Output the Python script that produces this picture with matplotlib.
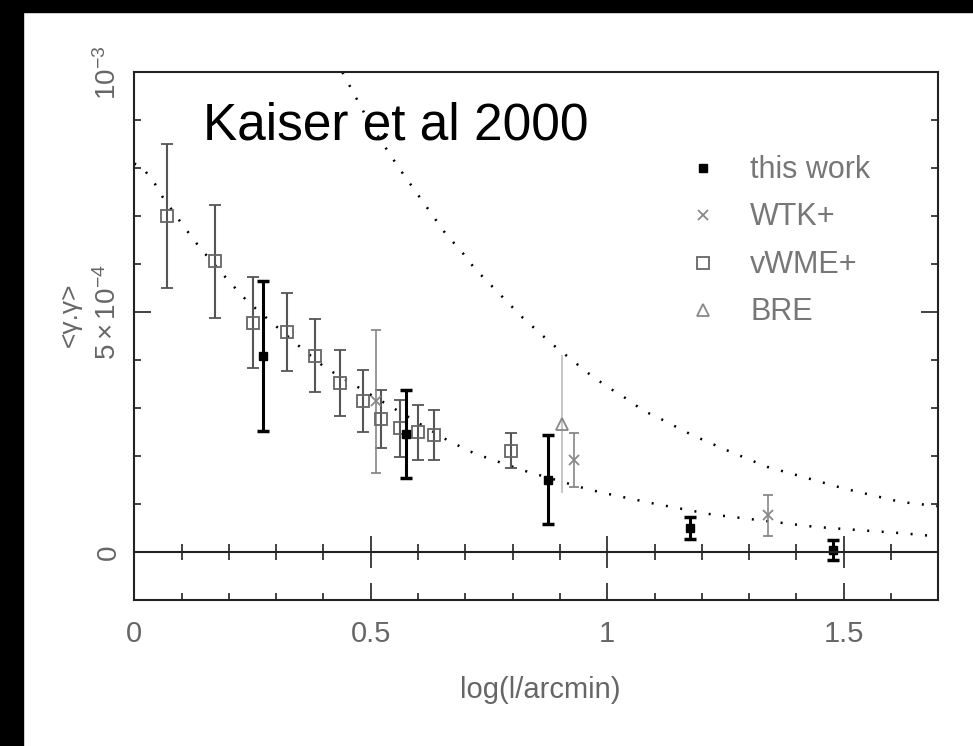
import numpy as np
import matplotlib
matplotlib.use("Agg")
import matplotlib.pyplot as plt
from matplotlib.patches import Rectangle

plt.rcParams['font.family'] = ['Liberation Sans', 'DejaVu Sans']
plt.rcParams['mathtext.fontset'] = 'custom'
plt.rcParams['mathtext.rm'] = 'Liberation Sans'
plt.rcParams['mathtext.it'] = 'Liberation Sans'

# values in units of 1e-3, x = log10(theta / arcmin)
this_x = [0.273, 0.574, 0.875, 1.176, 1.477]
this_y = [0.409, 0.246, 0.151, 0.051, 0.005]
this_err = [0.157, 0.092, 0.093, 0.023, 0.020]

wtk_x = [0.51, 0.93, 1.34]
wtk_y = [0.315, 0.193, 0.077]
wtk_err = [0.149, 0.056, 0.043]

vwme_x = [0.070, 0.170, 0.250, 0.322, 0.383, 0.434, 0.483, 0.522, 0.562, 0.600, 0.633, 0.797]
vwme_y = [0.700, 0.606, 0.478, 0.459, 0.410, 0.353, 0.315, 0.278, 0.258, 0.250, 0.245, 0.212]
vwme_err = [0.150, 0.117, 0.095, 0.081, 0.077, 0.069, 0.065, 0.061, 0.059, 0.057, 0.052, 0.037]

bre_x = [0.905]
bre_y = [0.267]
bre_err = [0.143]

# dotted model curves
lower_x = [0.0, 0.021, 0.044, 0.060, 0.100, 0.139, 0.199, 0.239, 0.343, 0.403,
           0.663, 0.719, 0.821, 0.960, 1.0, 1.101, 1.22, 1.439, 1.62, 1.70]
lower_y = [0.81, 0.797, 0.767, 0.740, 0.685, 0.634, 0.566, 0.523, 0.434, 0.385,
           0.233, 0.206, 0.171, 0.131, 0.122, 0.101, 0.079, 0.053, 0.040, 0.033]
upper_x = [0.44, 0.50, 0.56, 0.661, 0.680, 0.700, 0.719, 0.82, 0.882, 0.96, 1.0,
           1.039, 1.078, 1.101, 1.18, 1.259, 1.338, 1.40, 1.50, 1.62, 1.70]
upper_y = [1.0, 0.89, 0.80, 0.66, 0.64, 0.617, 0.592, 0.49, 0.435, 0.373, 0.345,
           0.321, 0.294, 0.284, 0.244, 0.21, 0.178, 0.161, 0.133, 0.105, 0.096]

xtick_vals = [0, 0.5, 1, 1.5]
xtick_labels = ['0', '0.5', '1', '1.5']
ytick_vals = [0, 0.5, 1.0]
ytick_labels = ['0', r'$5\times10^{-4}$', r'$10^{-3}$']

legend_labels = ['this work', 'WTK+', 'vWME+', 'BRE']

W, H = 973, 746
fig = plt.figure(figsize=(W / 100, H / 100), dpi=100)
fig.patches.append(Rectangle((0, 0), 23 / W, 1, transform=fig.transFigure, color='black', zorder=-1))
fig.patches.append(Rectangle((0, 1 - 12 / H), 1, 12 / H, transform=fig.transFigure, color='black', zorder=-1))

ax = fig.add_axes([134.3 / W, 1 - 600.3 / H, 804 / W, 528 / H])
ax.set_xlim(0, 1.7)
ax.set_ylim(-0.1, 1.0)

ax.plot(lower_x, lower_y, color='black', lw=1.8, linestyle=(0, (0.8, 5)))
ax.plot(upper_x, upper_y, color='black', lw=1.8, linestyle=(0, (0.8, 5)))

ax.errorbar(vwme_x, vwme_y, yerr=vwme_err, fmt='s', mfc='none', mec='#666', ms=9, mew=1.3,
            ecolor='#555', elinewidth=1.5, capsize=4, capthick=1.5, zorder=3)
ax.errorbar(wtk_x, wtk_y, yerr=wtk_err, fmt='x', color='#888', ms=7, mew=1.3,
            elinewidth=1.2, capsize=3.5, capthick=1.2, zorder=3)
ax.errorbar(bre_x, bre_y, yerr=bre_err, fmt='^', mfc='none', mec='#888', ms=9, mew=1.3,
            ecolor='#bbb', elinewidth=1.2, capsize=0, zorder=3)
ax.errorbar(this_x, this_y, yerr=this_err, fmt='s', color='black', ms=5.5,
            elinewidth=2.2, capsize=4, capthick=2.5, zorder=5)

for s in ax.spines.values():
    s.set_linewidth(1.5)
    s.set_color('#222')

ax.set_xticks(xtick_vals, xtick_labels)
ax.set_xticks(np.arange(0.1, 1.7, 0.1), minor=True)
ax.set_yticks(ytick_vals, ytick_labels)
ax.set_yticks(np.arange(-0.1, 1.0, 0.1), minor=True)
ax.tick_params(which='both', direction='in', top=True, right=True, width=1.2, color='#222',
               labelcolor='#666')
ax.tick_params(axis='x', labelsize=21, pad=14)
ax.tick_params(axis='y', labelsize=20, pad=9)
ax.tick_params(which='major', length=12)
ax.tick_params(which='minor', length=5)
for t in ax.get_yticklabels():
    t.set_rotation(90)
    t.set_va('center')

# zero line with ticks through it
axz = ax.twiny()
axz.set_xlim(0, 1.7)
for s in ['left', 'right', 'bottom']:
    axz.spines[s].set_visible(False)
axz.spines['top'].set_position(('data', 0))
axz.spines['top'].set_linewidth(1.5)
axz.spines['top'].set_color('#222')
axz.set_xticks(xtick_vals)
axz.set_xticks(np.arange(0.1, 1.7, 0.1), minor=True)
axz.tick_params(which='both', direction='inout', top=True, labeltop=False, bottom=False,
                labelbottom=False, width=1.2, color='#222')
axz.tick_params(which='major', length=23)
axz.tick_params(which='minor', length=11)

# legend drawn by hand
leg_rows = [0.819, 0.730, 0.639, 0.550]
leg_styles = [dict(marker='s', color='black', ms=5.5),
              dict(marker='x', color='#888', ms=7, mew=1.3),
              dict(marker='s', mfc='none', mec='#666', ms=9, mew=1.3),
              dict(marker='^', mfc='none', mec='#888', ms=9, mew=1.3)]
for yy, lab, st in zip(leg_rows, legend_labels, leg_styles):
    ax.plot([0.707], [yy], transform=ax.transAxes, linestyle='none', clip_on=False, **st)
    ax.text(0.766, yy - 0.019, lab, transform=ax.transAxes, fontsize=22, color='#777',
            va='baseline', ha='left')

fig.text(70 / W, 1 - 315 / H, '<γ.γ>', rotation=90, ha='center', va='center',
         fontsize=19, color='#666')
fig.text(540 / W, 1 - 690 / H, 'log(l/arcmin)', ha='center', va='center',
         fontsize=21, color='#666')
fig.text(203 / W, 1 - 140 / H, 'Kaiser et al 2000', fontsize=37, color='black',
         va='baseline', ha='left')

fig.savefig('out.png', dpi=100, facecolor='white')
